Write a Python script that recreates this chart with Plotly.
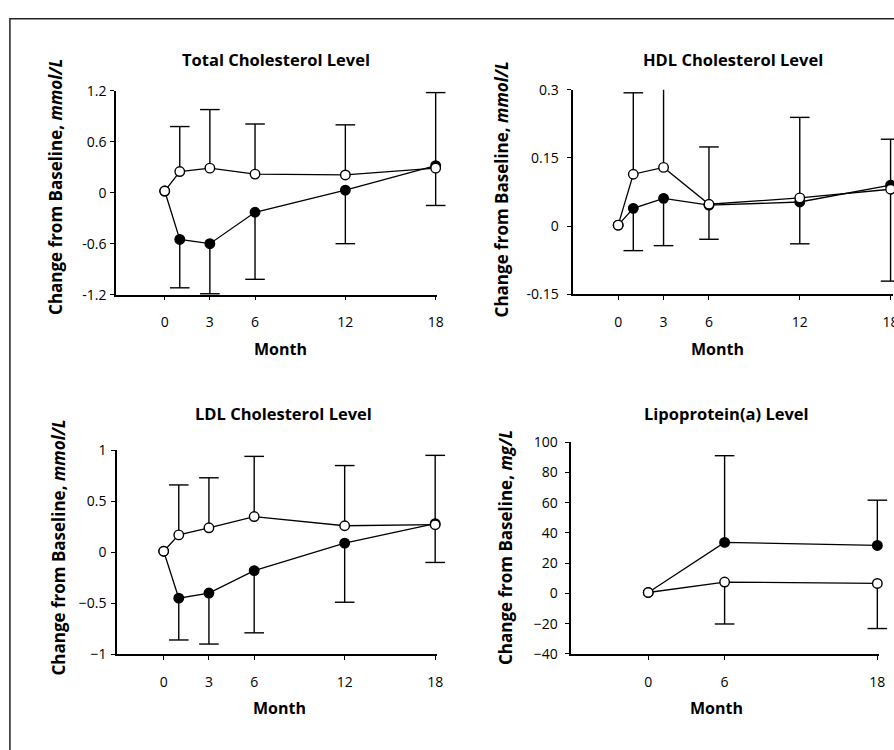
import plotly.graph_objects as go

# ---------------- data ----------------
months = [0, 1, 3, 6, 12, 18]
lpa_months = [0, 6, 18]
month_ticks = [0, 3, 6, 12, 18]
lpa_month_ticks = [0, 6, 18]

tc_open = [0.02, 0.25, 0.29, 0.22, 0.21, 0.29]
tc_open_err_up = [None, 0.53, 0.69, 0.59, 0.59, 0.89]
tc_filled = [0.02, -0.55, -0.60, -0.23, 0.03, 0.32]
tc_filled_err_down = [None, 0.57, 0.59, 0.79, 0.63, 0.47]

hdl_open = [0.002, 0.114, 0.129, 0.048, 0.062, 0.081]
hdl_open_err_up = [None, 0.179, 0.179, 0.126, 0.177, 0.110]
hdl_filled = [0.002, 0.039, 0.061, 0.046, 0.053, 0.090]
hdl_filled_err_down = [None, 0.093, 0.104, 0.075, 0.092, 0.211]

ldl_open = [0.01, 0.17, 0.24, 0.35, 0.26, 0.27]
ldl_open_err_up = [None, 0.49, 0.49, 0.59, 0.59, 0.68]
ldl_filled = [0.01, -0.45, -0.40, -0.18, 0.09, 0.28]
ldl_filled_err_down = [None, 0.41, 0.50, 0.61, 0.58, 0.38]

lpa_open = [0.6, 7.5, 6.6]
lpa_open_err_down = [None, 27.7, 29.8]
lpa_filled = [0.6, 33.7, 31.7]
lpa_filled_err_up = [None, 57.3, 29.9]

tc_ticks = [-1.2, -0.6, 0, 0.6, 1.2]
tc_ticktext = ["-1.2", "-0.6", "0", "0.6", "1.2"]
hdl_ticks = [-0.15, 0, 0.15, 0.3]
hdl_ticktext = ["-0.15", "0", "0.15", "0.3"]
ldl_ticks = [-1, -0.5, 0, 0.5, 1]
ldl_ticktext = ["\u22121", "\u22120.5", "0", "0.5", "1"]
lpa_ticks = [-40, -20, 0, 20, 40, 60, 80, 100]
lpa_ticktext = ["\u221240", "\u221220", "0", "20", "40", "60", "80", "100"]

titles = ["Total Cholesterol Level", "HDL Cholesterol Level",
          "LDL Cholesterol Level", "Lipoprotein(a) Level"]
ytitles = ["Change from Baseline, <i>mmol/L</i>", "Change from Baseline, <i>mmol/L</i>",
           "Change from Baseline, <i>mmol/L</i>", "Change from Baseline, <i>mg/L</i>"]
xtitle = "Month"

# ---------------- figure ----------------
FIGW, H = 900, 750          # page is cropped to 894 px by the window, as in the reference
FONT = "Open Sans"
fig = go.Figure()


def px_x(p):
    return p / FIGW


def px_y(p):
    return 1 - p / H


def add_errors(x, y, err, up, xa, ya):
    e0 = [e if e is not None else 0 for e in err]
    fig.add_trace(go.Scatter(
        x=x, y=y, mode="markers", xaxis=xa, yaxis=ya,
        marker=dict(size=1, color="rgba(0,0,0,0)"),
        error_y=dict(type="data", symmetric=False,
                     array=e0 if up else [0] * len(e0),
                     arrayminus=[0] * len(e0) if up else e0,
                     width=0, thickness=1.4, color="black"),
        cliponaxis=False, hoverinfo="skip", showlegend=False))
    cx = [xi for xi, e in zip(x, err) if e]
    cy = [yi + e if up else yi - e for yi, e in zip(y, err) if e]
    fig.add_trace(go.Scatter(
        x=cx, y=cy, mode="markers", xaxis=xa, yaxis=ya,
        marker=dict(symbol="line-ew", size=14, line=dict(color="black", width=1.4)),
        cliponaxis=False, hoverinfo="skip", showlegend=False))


def add_series(x, y, filled, xa, ya):
    fig.add_trace(go.Scatter(
        x=x, y=y, mode="lines+markers", xaxis=xa, yaxis=ya,
        line=dict(color="black", width=1.3),
        marker=dict(size=9.5, color="black" if filled else "white",
                    line=dict(color="black", width=1.4)),
        cliponaxis=False, showlegend=False))


panels = [
    ("x", "y", months, tc_open, tc_open_err_up, True, tc_filled, tc_filled_err_down, False),
    ("x2", "y2", months, hdl_open, hdl_open_err_up, True, hdl_filled, hdl_filled_err_down, False),
    ("x3", "y3", months, ldl_open, ldl_open_err_up, True, ldl_filled, ldl_filled_err_down, False),
    ("x4", "y4", lpa_months, lpa_open, lpa_open_err_down, False, lpa_filled, lpa_filled_err_up, True),
]
for xa, ya, mx, yo, eo, oup, yf, ef, fup in panels:
    add_errors(mx, yo, eo, oup, xa, ya)
    add_errors(mx, yf, ef, fup, xa, ya)
    add_series(mx, yf, True, xa, ya)
    add_series(mx, yo, False, xa, ya)

axis_common = dict(showline=True, linecolor="black", linewidth=1.5,
                   ticks="outside", ticklen=4, tickwidth=1.2, tickcolor="black",
                   showgrid=False, zeroline=False, fixedrange=True,
                   tickfont=dict(family=FONT, size=14, color="black"))

# pixel geometry of the four plot areas: (left, right, top, bottom), x range
geo = [
    (117, 440.6, 83, 292, [-3.23, 18.1], tc_ticks, tc_ticktext, [-1.2, 1.2], month_ticks, 1),
    (577.7, 900, 81.7, 291.7, [-2.97, 18.16], hdl_ticks, hdl_ticktext, [-0.15, 0.3], month_ticks, 6),
    (118, 440.1, 451.7, 661, [-3.09, 18.1], ldl_ticks, ldl_ticktext, [-1, 1], month_ticks, 2),
    (575.7, 885.5, 443.3, 660.7, [-6.05, 18.1], lpa_ticks, lpa_ticktext, [-40, 100], lpa_month_ticks, 5),
]
layout = {}
for i, (l, r, t, b, xr, yt, ytt, yr, xt, ystand) in enumerate(geo):
    sfx = "" if i == 0 else str(i + 1)
    layout["xaxis" + sfx] = dict(axis_common, domain=[px_x(l), min(px_x(r), 1)], range=xr,
                                 tickvals=xt, ticktext=[str(v) for v in xt],
                                 anchor="y" + sfx, ticklabelstandoff=10)
    layout["yaxis" + sfx] = dict(axis_common, domain=[px_y(b), px_y(t)], range=yr,
                                 tickvals=yt, ticktext=ytt, anchor="x" + sfx,
                                 ticklabelstandoff=ystand)

annotations = []
title_pos = [(278, 51), (739, 51), (286, 414), (732, 414)]
ytitle_pos = [(56, 182), (505, 184), (58, 552), (509, 552)]
xtitle_pos = [(283, 348), (723, 348), (282, 716), (722, 716)]
for i in range(4):
    annotations.append(dict(text="<b>" + titles[i] + "</b>", x=px_x(title_pos[i][0]),
                            y=px_y(title_pos[i][1]), xref="paper", yref="paper",
                            showarrow=False, xanchor="center", yanchor="middle",
                            font=dict(family=FONT, size=16.5, color="black")))
    annotations.append(dict(text="<b>" + ytitles[i] + "</b>", x=px_x(ytitle_pos[i][0]),
                            y=px_y(ytitle_pos[i][1]), xref="paper", yref="paper",
                            showarrow=False, xanchor="center", yanchor="middle", textangle=-90,
                            font=dict(family=FONT, size=17, color="black")))
    annotations.append(dict(text="<b>" + xtitle + "</b>", x=px_x(xtitle_pos[i][0]),
                            y=px_y(xtitle_pos[i][1]), xref="paper", yref="paper",
                            showarrow=False, xanchor="center", yanchor="middle",
                            font=dict(family=FONT, size=16, color="black")))

fig.update_layout(
    width=FIGW, height=H, margin=dict(l=0, r=0, t=0, b=0),
    paper_bgcolor="white", plot_bgcolor="white",
    showlegend=False, annotations=annotations,
    shapes=[dict(type="rect", xref="paper", yref="paper",
                 x0=px_x(10), x1=1.05, y0=-0.05, y1=px_y(9),
                 line=dict(color="#222", width=1.5))],
    **layout,
)

fig.write_html(
    "out.html",
    config={"displayModeBar": False},
    post_script=("document.body.style.margin='0';"
                 "document.body.style.overflow='hidden';"
                 "document.documentElement.style.overflow='hidden';"),
)
